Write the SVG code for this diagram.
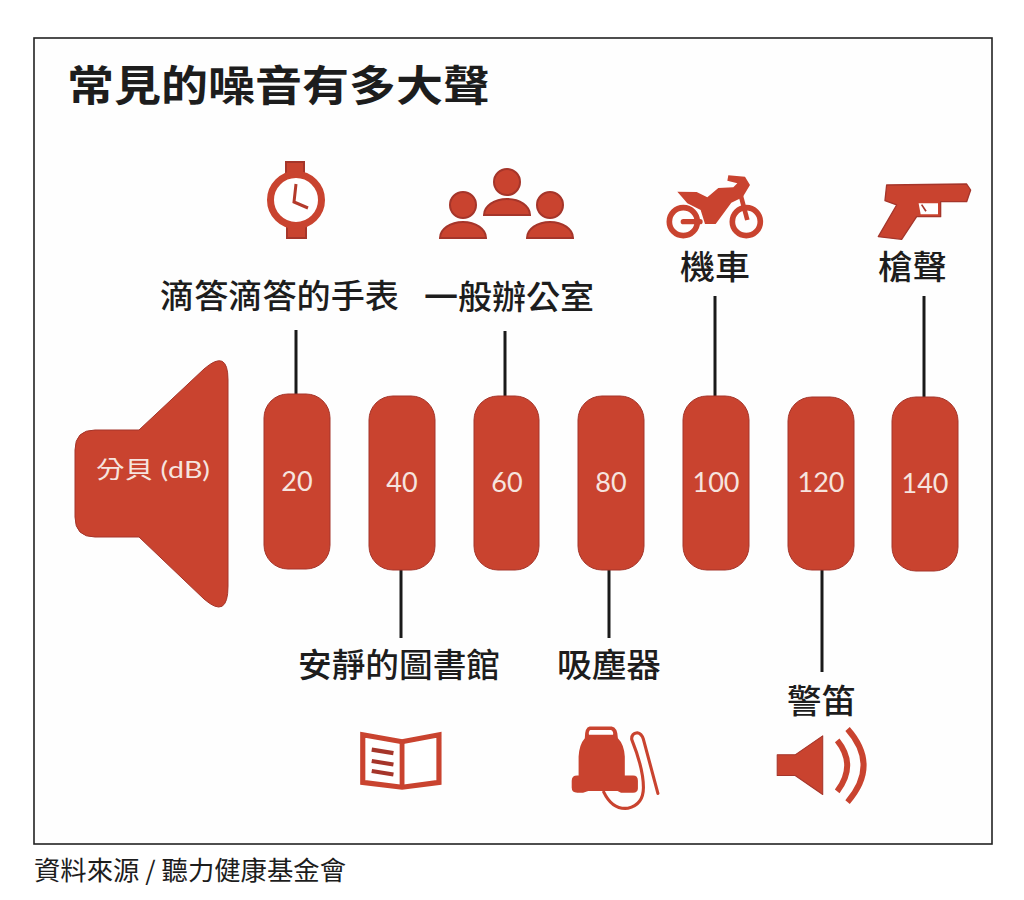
<svg xmlns="http://www.w3.org/2000/svg" width="1024" height="900" viewBox="0 0 1024 900">
<style>
.t{font-family:"Noto Sans CJK TC","Noto Sans CJK SC",sans-serif;fill:#1d1d1d}
.lb{font-size:33px;font-weight:500;text-anchor:middle}
.bar{fill:#c9432f;stroke:#a5352a;stroke-width:1}
.num{font-family:"Lato","Noto Sans CJK TC",sans-serif;font-size:27px;font-weight:400;fill:#f6e4df;text-anchor:middle}
.ic{fill:#c9432f;stroke:#a5352a;stroke-width:2}
.wire{stroke:#1a1a1a;stroke-width:3;fill:none}
.line{fill:none;stroke:#c9432f}
</style>
<rect width="1024" height="900" fill="#fff"/>
<rect x="34" y="38" width="958" height="806" fill="#fefefe" stroke="#222" stroke-width="1.6"/>
<text id="title" class="t" x="67" y="101" font-size="42" font-weight="700" textLength="423" lengthAdjust="spacingAndGlyphs">常見的噪音有多大聲</text>
<g id="connectors" class="wire">
<path d="M296 330V394"/><path d="M401 570V638"/><path d="M505 331V396"/><path d="M609 570V638"/><path d="M715 296V396"/><path d="M822 570V672"/><path d="M924 296V397"/>
</g>
<g id="speaker-db">
<path class="bar" d="M95 430H139L204 369Q228 348 228 380V586Q228 620 204 599L139 537H95Q75 537 75 517V450Q75 430 95 430Z"/>
<text x="96" y="478" font-family="Lato,'Noto Sans CJK TC',sans-serif" font-size="24" font-weight="400" fill="#f6e4df" textLength="114" lengthAdjust="spacingAndGlyphs">分貝 (dB)</text>
</g>
<g id="bar-20"><rect class="bar" x="264" y="394" width="66" height="175" rx="24"/><text class="num" x="297" y="491">20</text></g>
<g id="bar-40"><rect class="bar" x="369" y="396" width="66" height="174" rx="24"/><text class="num" x="402" y="492">40</text></g>
<g id="bar-60"><rect class="bar" x="474" y="396" width="65" height="174" rx="24"/><text class="num" x="507" y="492">60</text></g>
<g id="bar-80"><rect class="bar" x="578" y="396" width="66" height="174" rx="24"/><text class="num" x="611" y="492">80</text></g>
<g id="bar-100"><rect class="bar" x="683" y="396" width="66" height="174" rx="24"/><text class="num" x="716" y="492">100</text></g>
<g id="bar-120"><rect class="bar" x="788" y="397" width="66" height="173" rx="24"/><text class="num" x="821" y="492">120</text></g>
<g id="bar-140"><rect class="bar" x="892" y="397" width="66" height="174" rx="24"/><text class="num" x="925" y="493">140</text></g>
<g id="label-watch"><text class="t lb" x="279.500" y="308" textLength="239" lengthAdjust="spacingAndGlyphs">滴答滴答的手表</text></g>
<g id="label-office"><text class="t lb" x="509" y="309" textLength="170" lengthAdjust="spacingAndGlyphs">一般辦公室</text></g>
<g id="label-moto"><text class="t lb" x="715" y="279" textLength="70" lengthAdjust="spacingAndGlyphs">機車</text></g>
<g id="label-gun"><text class="t lb" x="912.500" y="279" textLength="69" lengthAdjust="spacingAndGlyphs">槍聲</text></g>
<g id="label-library"><text class="t lb" x="399" y="677" textLength="202" lengthAdjust="spacingAndGlyphs">安靜的圖書館</text></g>
<g id="label-vacuum"><text class="t lb" x="609" y="677" textLength="104" lengthAdjust="spacingAndGlyphs">吸塵器</text></g>
<g id="label-siren"><text class="t lb" x="821.500" y="713" textLength="69" lengthAdjust="spacingAndGlyphs">警笛</text></g>
<g id="icon-watch">
<path class="ic" d="M286 162H304V174H286ZM287 226H306V238H287Z"/>
<circle cx="296" cy="200" r="25.500" fill="#fff" stroke="#c9432f" stroke-width="7"/>
<path d="M296 184L294 202L308 208" fill="none" stroke="#b43a2b" stroke-width="3"/>
</g>
<g id="icon-people">
<circle class="ic" cx="507" cy="182" r="13"/><path class="ic" d="M484 215A23 16 0 0 1 530 215Z"/>
<circle class="ic" cx="463" cy="205" r="13"/><path class="ic" d="M440 238A23 16 0 0 1 486 238Z"/>
<circle class="ic" cx="550" cy="205" r="13"/><path class="ic" d="M527 238A23 16 0 0 1 573 238Z"/>
</g>
<g id="icon-motorcycle" transform="translate(650 160) scale(.3333)">
<circle cx="100" cy="185" r="42" fill="none" stroke="#c9432f" stroke-width="17"/>
<circle cx="289" cy="185" r="42" fill="none" stroke="#c9432f" stroke-width="17"/>
<path d="M100 185H150" stroke="#c9432f" stroke-width="16" stroke-linecap="round"/>
<path d="M272 105L292 180" stroke="#c9432f" stroke-width="14" fill="none"/>
<path fill="#c9432f" d="M82 95L140 96L172 112L205 84L250 82L262 70L232 62L235 46L285 50L300 75L278 112L244 128L197 192L165 192L152 150L112 130Z"/>
</g>
<g id="icon-gun" transform="translate(650 160) scale(.3333)">
<path fill="#c9432f" stroke="#a5352a" stroke-width="4" stroke-linejoin="round" d="M710 75L950 72L962 90L950 125H872V170H800L755 238L685 230L740 135L705 122Z"/>
<path fill="#fff" d="M806 130H864V163H812Z"/>
<path d="M815 134L828 154" stroke="#a5352a" stroke-width="5"/>
</g>
<g id="icon-book" transform="translate(340 710) scale(.3448)">
<path d="M66 72L180 92L287 72V210L180 224L66 210Z" fill="#fff" stroke="#c9432f" stroke-width="15" stroke-linejoin="miter"/>
<path d="M180 92V224" stroke="#c9432f" stroke-width="14"/>
<path d="M92 115L155 125M92 148L155 158M92 177L155 187" stroke="#a5352a" stroke-width="12"/>
</g>
<g id="icon-vacuum" transform="translate(340 710) scale(.3448)">
<path fill="#c9432f" d="M724 48H788Q805 50 806 82Q824 100 826 135V190H850Q864 190 864 205V228Q864 240 850 240H815L805 235H720L705 240H688Q672 240 672 225V205Q672 190 688 190H692V135Q694 100 710 82Q710 50 724 48Z"/>
<path fill="#fff" d="M726 58H786Q794 62 792 72H722Q720 62 726 58Z"/>
<path class="line" stroke-width="9" stroke-linecap="round" d="M765 238Q790 290 835 285Q880 275 880 225Q880 170 846 85Q845 68 862 66Q875 68 880 85L922 242"/>
</g>
<g id="icon-siren" transform="translate(340 710) scale(.3448)">
<path fill="#c9432f" stroke="#a5352a" stroke-width="3" stroke-linejoin="round" d="M1268 130H1320L1400 75V245L1320 190H1268Z"/>
<path class="line" stroke-width="17" d="M1442 88Q1500 160 1442 236M1472 55Q1565 160 1472 267"/>
</g>
<text id="source" class="t" x="34" y="880" font-size="26" textLength="312" lengthAdjust="spacingAndGlyphs">資料來源 / 聽力健康基金會</text>
</svg>
